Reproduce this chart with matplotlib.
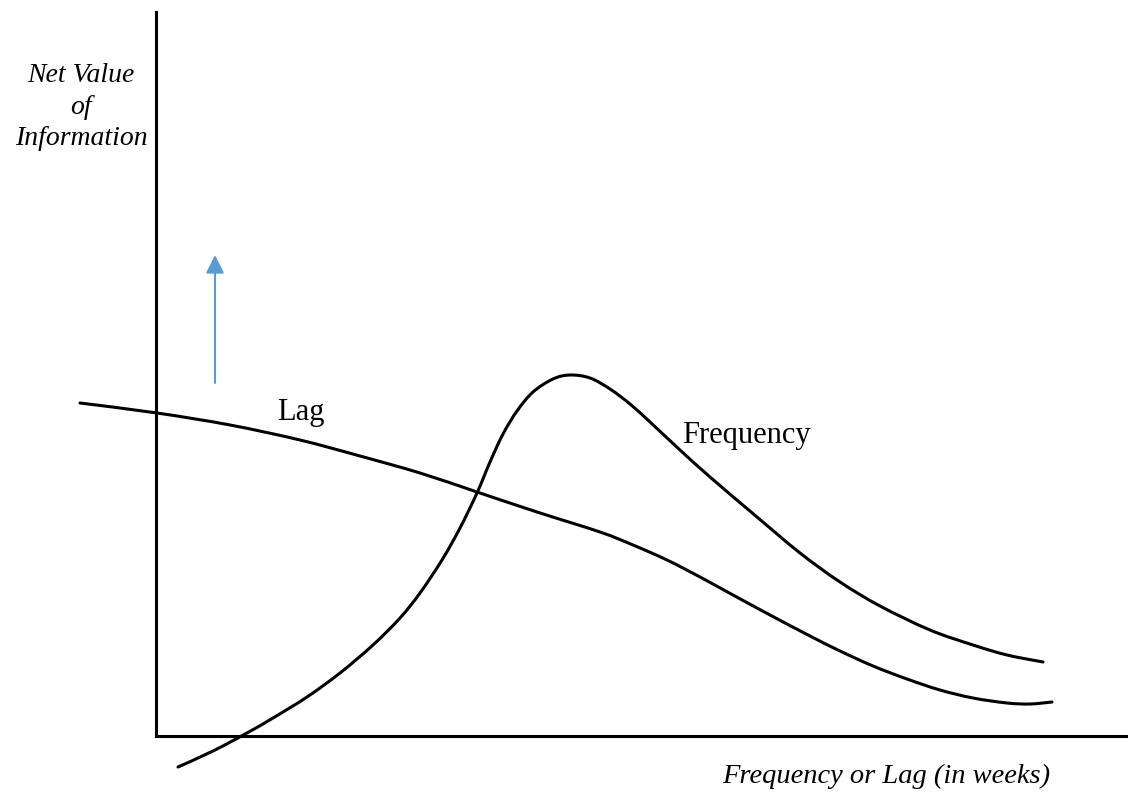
#!/usr/bin/env python3
# -*- coding: utf-8 -*-
"""
Net value of information vs frequency / lag (schematic)
"""

import matplotlib
matplotlib.use('Agg')
import matplotlib.pyplot as plt
from matplotlib.path import Path
from matplotlib.patches import PathPatch
import numpy as np

plt.rcParams['font.family'] = ['Liberation Serif', 'DejaVu Serif']

# curve readings (chart units, origin at the axes corner)
lag_x = [-76, 1, 74, 144, 204, 264, 321, 381, 444, 477, 511, 544, 577, 614,
         654, 684, 717, 751, 784, 817, 851, 874, 896]
lag_y = [333, 323, 311, 296, 280, 263, 244, 224, 204, 191, 176, 159, 141, 121,
         100, 85, 70, 57, 46, 38, 33, 32, 34]

freq_x = [22, 57, 91, 117, 151, 184, 217, 244, 264, 286, 304, 321, 334, 347,
          361, 377, 397, 414, 434, 454, 474, 494, 524, 554, 601, 644, 684, 724,
          774, 817, 851, 887]
freq_y = [-31, -15, 3, 18, 39, 63, 91, 118, 143, 176, 208, 243, 274, 302,
          325, 344, 357, 361, 358, 347, 332, 314, 286, 259, 219, 183, 154, 130,
          106, 91, 81, 74]

# blue arrow (start, end)
arrow_x = [59, 59]
arrow_y = [353, 481]

x_max = 972
y_max = 724


def smooth_path(xs, ys):
    """Catmull-Rom curve through the points, as cubic Bezier segments"""
    p = np.column_stack([xs, ys]).astype(float)
    p_ext = np.vstack([p[0], p, p[-1]])
    verts = [p[0]]
    codes = [Path.MOVETO]
    for i in range(1, len(p_ext) - 2):
        c1 = p_ext[i] + (p_ext[i + 1] - p_ext[i - 1]) / 6
        c2 = p_ext[i + 1] - (p_ext[i + 2] - p_ext[i]) / 6
        verts += [c1, c2, p_ext[i + 1]]
        codes += [Path.CURVE4] * 3
    return Path(verts, codes)


def main():
    fig = plt.figure(figsize=(11.28, 7.92), dpi=100)
    ax = fig.add_axes([156 / 1128, 56 / 792, 972 / 1128, 724 / 792])
    ax.set_xlim(0, x_max)
    ax.set_ylim(0, y_max)

    for side in ['top', 'right']:
        ax.spines[side].set_visible(False)
    for side in ['left', 'bottom']:
        ax.spines[side].set_linewidth(2.2)
        ax.spines[side].set_color('black')
    ax.set_xticks([])
    ax.set_yticks([])

    for xs, ys in [(lag_x, lag_y), (freq_x, freq_y)]:
        patch = PathPatch(smooth_path(xs, ys), facecolor='none',
                          edgecolor='black', lw=2.2, capstyle='round',
                          joinstyle='round', clip_on=False)
        ax.add_patch(patch)

    ax.annotate('', xy=(arrow_x[1], arrow_y[1]), xytext=(arrow_x[0], arrow_y[0]),
                arrowprops=dict(arrowstyle='-|>,head_length=1.1,head_width=0.55',
                                color='#5b9bd5', lw=1.5, shrinkA=0, shrinkB=0))

    ax.text(121, 316, 'Lag', fontsize=22, va='baseline', ha='left')
    ax.text(526, 293, 'Frequency', fontsize=22, va='baseline', ha='left')

    fig.text(81 / 1128, 1 - 107 / 792, 'Net Value\nof\nInformation',
             fontsize=20, style='italic', ha='center', va='center',
             linespacing=1.35)
    fig.text(722 / 1128, 1 - 776 / 792, 'Frequency or Lag (in weeks)',
             fontsize=20.5, style='italic', ha='left', va='center')

    fig.savefig('out.png', dpi=100)
    plt.close(fig)


if __name__ == "__main__":
    main()
